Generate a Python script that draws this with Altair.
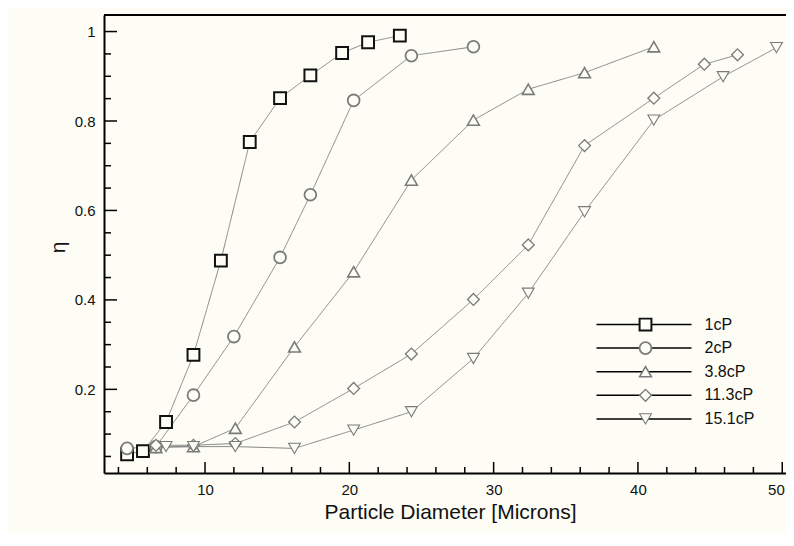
import altair as alt
import pandas as pd

# ---------------- data ----------------
series_names = ["1cP", "2cP", "3.8cP", "11.3cP", "15.1cP"]

d_1cP = [4.6, 5.7, 7.3, 9.2, 11.1, 13.1, 15.2, 17.3, 19.5, 21.3, 23.5]
eta_1cP = [0.055, 0.062, 0.127, 0.277, 0.488, 0.753, 0.851, 0.902, 0.952, 0.976, 0.991]

d_2cP = [4.6, 6.6, 9.2, 12.0, 15.2, 17.3, 20.3, 24.3, 28.6]
eta_2cP = [0.068, 0.072, 0.187, 0.318, 0.495, 0.635, 0.846, 0.946, 0.966]

d_38cP = [6.6, 9.2, 12.1, 16.2, 20.3, 24.3, 28.6, 32.4, 36.3, 41.1]
eta_38cP = [0.070, 0.072, 0.113, 0.295, 0.463, 0.668, 0.802, 0.871, 0.908, 0.966]

d_113cP = [6.6, 9.2, 12.1, 16.2, 20.3, 24.3, 28.6, 32.4, 36.3, 41.1, 44.6, 46.9]
eta_113cP = [0.075, 0.075, 0.079, 0.127, 0.202, 0.279, 0.401, 0.523, 0.745, 0.851, 0.927, 0.948]

d_151cP = [7.3, 9.2, 12.1, 16.2, 20.3, 24.3, 28.6, 32.4, 36.3, 41.1, 45.9, 49.6]
eta_151cP = [0.072, 0.072, 0.072, 0.068, 0.109, 0.150, 0.269, 0.415, 0.597, 0.802, 0.899, 0.964]

x_tick_labels = [10, 20, 30, 40, 50]
x_minor_ticks = [4, 6, 8, 12, 14, 16, 18, 22, 24, 26, 28, 32, 34, 36, 38, 42, 44, 46, 48]
y_tick_labels = [0.2, 0.4, 0.6, 0.8, 1.0]
y_minor_ticks = [0.05, 0.1, 0.15, 0.25, 0.3, 0.35, 0.45, 0.5, 0.55, 0.65, 0.7, 0.75,
                 0.85, 0.9, 0.95]

# ---------------- build table ----------------
# line-legend keys carry a trailing space so Vega-Lite keeps the two legends apart
line_keys = [n + " " for n in series_names]
rows = []
for name, lkey, xs_, ys_ in zip(series_names, line_keys,
                                [d_1cP, d_2cP, d_38cP, d_113cP, d_151cP],
                                [eta_1cP, eta_2cP, eta_38cP, eta_113cP, eta_151cP]):
    for a, b in zip(xs_, ys_):
        rows.append({"d": a, "eta": b, "series": name, "series_l": lkey})
df = pd.DataFrame(rows)

# ---------------- style ----------------
BG = "#fdfdf5"
INK = "#111111"
FONT = "Liberation Sans"
W, H = 682, 458
XD = [3.0, 50.26]
YD = [0.013, 1.037]

xscale = alt.Scale(domain=XD, nice=False, zero=False)
yscale = alt.Scale(domain=YD, nice=False, zero=False)

xaxis = alt.Axis(values=x_tick_labels, format="d", ticks=False, tickSize=0, grid=False,
                 domainColor="black", domainWidth=2, labelFont=FONT, labelFontSize=15,
                 labelColor=INK, labelPadding=9, labelFlush=6, labelFlushOffset=2,
                 title="Particle Diameter [Microns]", titleFont=FONT, titleFontSize=21,
                 titleFontWeight="normal", titleColor=INK, titleY=39, titleX=346,
                 titleBaseline="middle")
yaxis = alt.Axis(values=y_tick_labels, format=".1~f", ticks=False, tickSize=0, grid=False,
                 domainColor="black", domainWidth=2, labelFont=FONT, labelFontSize=15,
                 labelColor=INK, labelPadding=9, labelFlush=False,
                 title="η", titleFont=FONT, titleFontSize=21, titleFontWeight="normal",
                 titleColor=INK, titleAngle=-90, titleX=-46, titleY=232,
                 titleAlign="center", titleBaseline="middle")

shape_range = ["square", "circle", "triangle-up", "diamond", "triangle-down"]
stroke_range = ["#111111", "#7a7a7a", "#7a7a7a", "#7a7a7a", "#7a7a7a"]
width_range = [2, 1.1, 1.1, 1.1, 1.1]

line_legend = alt.Legend(orient="none", legendX=491.5, legendY=302.5, title=None,
                         symbolType="stroke", symbolSize=9025, symbolStrokeColor="black",
                         symbolStrokeWidth=1.5, symbolOpacity=1, clipHeight=14,
                         rowPadding=7.6, padding=0, labelFont=FONT, labelFontSize=16,
                         labelColor=INK, labelOffset=12)
marker_legend = alt.Legend(orient="none", legendX=533.5, legendY=302.5, title=None,
                           symbolSize=140, symbolFillColor=BG, symbolOpacity=1,
                           clipHeight=14, rowPadding=7.6, padding=0, labelFont=FONT,
                           labelFontSize=16, labelOpacity=0)

lines = alt.Chart(df).mark_line(strokeWidth=1, color="#858585").encode(
    x=alt.X("d:Q", scale=xscale, axis=xaxis),
    y=alt.Y("eta:Q", scale=yscale, axis=yaxis),
    strokeDash=alt.StrokeDash("series_l:N",
                              scale=alt.Scale(domain=line_keys, range=[[1, 0]] * 5),
                              legend=line_legend),
)

points = alt.Chart(df).mark_point(size=140, opacity=1).encode(
    x=alt.X("d:Q", scale=xscale, axis=xaxis),
    y=alt.Y("eta:Q", scale=yscale, axis=yaxis),
    shape=alt.Shape("series:N", scale=alt.Scale(domain=series_names, range=shape_range),
                    legend=marker_legend),
    stroke=alt.Stroke("series:N", scale=alt.Scale(domain=series_names, range=stroke_range),
                      legend=marker_legend),
    strokeWidth=alt.StrokeWidth("series:N",
                                scale=alt.Scale(domain=series_names, range=width_range),
                                legend=marker_legend),
    fill=alt.value(BG),
)

y_major = alt.Chart(pd.DataFrame({"eta": y_tick_labels})).mark_rule(
    color="black", strokeWidth=1.5).encode(
    y=alt.Y("eta:Q", scale=yscale, axis=yaxis), x=alt.value(0), x2=alt.value(13))
y_minor = alt.Chart(pd.DataFrame({"eta": y_minor_ticks})).mark_rule(
    color="black", strokeWidth=1.5).encode(
    y=alt.Y("eta:Q", scale=yscale, axis=yaxis), x=alt.value(0), x2=alt.value(7))
x_major = alt.Chart(pd.DataFrame({"d": x_tick_labels})).mark_rule(
    color="black", strokeWidth=1.5).encode(
    x=alt.X("d:Q", scale=xscale, axis=xaxis), y=alt.value(H), y2=alt.value(H - 11))
x_minor = alt.Chart(pd.DataFrame({"d": x_minor_ticks})).mark_rule(
    color="black", strokeWidth=1.5).encode(
    x=alt.X("d:Q", scale=xscale, axis=xaxis), y=alt.value(H), y2=alt.value(H - 6))
top_border = alt.Chart(pd.DataFrame({"k": [0]})).mark_rule(
    color="black", strokeWidth=2).encode(
    x=alt.value(0), x2=alt.value(W), y=alt.value(0))

chart = alt.layer(lines, points, y_major, y_minor, x_major, x_minor, top_border).properties(
    width=W, height=H, background=BG,
    autosize=alt.AutoSizeParams(type="none"),
    padding={"left": 96, "top": 7, "right": 0, "bottom": 60},
).configure_view(stroke=None)

chart.save("out.html", embed_options={"renderer": "svg", "actions": False})
